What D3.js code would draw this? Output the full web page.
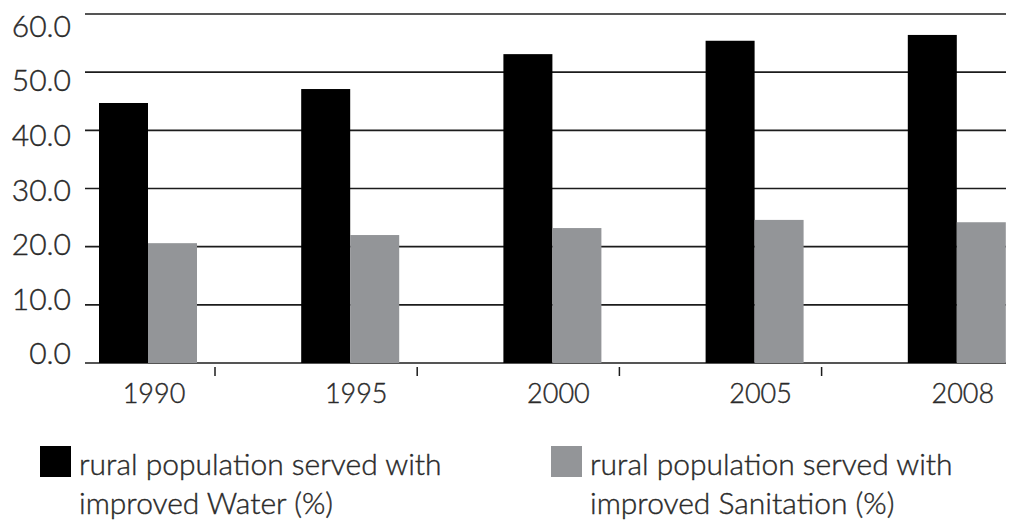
<!DOCTYPE html>
<html>
<head>
<meta charset="utf-8">
<script src="https://cdn.jsdelivr.net/npm/d3@7"></script>
<style>
  html, body { margin: 0; padding: 0; background: #fff; }
  svg { display: block; }
  text { font-family: "Lato", "Open Sans", sans-serif; font-weight: 300; fill: #2a2a2a; stroke: #2a2a2a; stroke-width: 0.4px; }
</style>
</head>
<body>
<svg id="chart" width="1018" height="525"></svg>
<script>
// Rural access to improved water and sanitation, percent of population
const years = ["1990", "1995", "2000", "2005", "2008"];
const waterPct = [44.7, 47.1, 53.1, 55.4, 56.4];
const sanitationPct = [20.6, 22.0, 23.2, 24.6, 24.2];
const yTicks = [0, 10, 20, 30, 40, 50, 60];
const seriesNames = ["water", "sanitation"];
const legendLines = [
  ["rural population served with", "improved Water (%)"],
  ["rural population served with", "improved Sanitation (%)"]
];
const seriesColors = ["#000000", "#939598"];

const svg = d3.select("#chart");

const y = d3.scaleLinear().domain([0, 60]).range([363, 14]);
// value labels sit on a slightly tighter ladder than the rules
const yLabel = d3.scaleLinear().domain([0, 60]).range([353.5, 26]);

const x = d3.scaleBand().domain(years).range([99, 99 + 5 * 202.2]).padding(0);
const xInner = d3.scaleBand().domain(seriesNames).range([0, 98]).padding(0);
const color = d3.scaleOrdinal().domain(seriesNames).range(seriesColors);

const plotLeft = 85, plotRight = 1006;

// horizontal rules
svg.append("g")
  .selectAll("line")
  .data(yTicks)
  .join("line")
  .attr("x1", plotLeft)
  .attr("x2", plotRight)
  .attr("y1", d => y(d))
  .attr("y2", d => y(d))
  .attr("stroke", "#1c1c1c")
  .attr("stroke-width", 1.7);

// y value labels
svg.append("g")
  .selectAll("text")
  .data(yTicks)
  .join("text")
  .attr("x", 71)
  .attr("y", d => yLabel(d))
  .attr("dy", "0.36em")
  .attr("text-anchor", "end")
  .attr("font-size", 30)
  .text(d3.format(".1f"));

// bars
const rows = years.map((yr, i) => ({ year: yr, water: waterPct[i], sanitation: sanitationPct[i] }));
const groups = svg.append("g")
  .selectAll("g")
  .data(rows)
  .join("g")
  .attr("transform", d => `translate(${x(d.year)},0)`);

groups.selectAll("rect")
  .data(d => seriesNames.map(k => ({ key: k, value: d[k] })))
  .join("rect")
  .attr("x", d => xInner(d.key))
  .attr("width", xInner.bandwidth())
  .attr("y", d => y(d.value))
  .attr("height", d => y(0) - y(d.value))
  .attr("fill", d => color(d.key));

// category separator ticks under the baseline
svg.append("g")
  .selectAll("line")
  .data(years.slice(0, -1))
  .join("line")
  .attr("x1", d => x(d) + 116)
  .attr("x2", d => x(d) + 116)
  .attr("y1", y(0) + 4)
  .attr("y2", y(0) + 13)
  .attr("stroke", "#1c1c1c")
  .attr("stroke-width", 1.5);

// year labels
svg.append("g")
  .selectAll("text")
  .data(years)
  .join("text")
  .attr("x", d => x(d) + xInner.range()[1] / 2 + 6)
  .attr("y", 403)
  .attr("text-anchor", "middle")
  .attr("font-size", 27)
  .text(d => d);

// legend
const legendX = [40, 551];
const legend = svg.append("g")
  .selectAll("g")
  .data(seriesNames)
  .join("g")
  .attr("transform", (d, i) => `translate(${legendX[i]},446)`);

legend.append("rect")
  .attr("width", 31)
  .attr("height", 31)
  .attr("fill", d => color(d));

legend.append("text")
  .attr("x", 39)
  .attr("y", 29)
  .attr("font-size", 30)
  .selectAll("tspan")
  .data((d, i) => legendLines[i])
  .join("tspan")
  .attr("x", 39)
  .attr("dy", (d, j) => j === 0 ? 0 : 39)
  .text(d => d);
</script>
</body>
</html>
